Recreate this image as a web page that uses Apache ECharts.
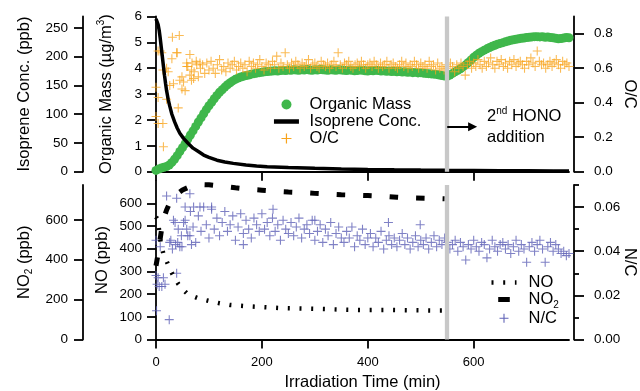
<!DOCTYPE html>
<html><head><meta charset="utf-8">
<script src="https://cdn.jsdelivr.net/npm/echarts@6/dist/echarts.min.js"></script>
<style>html,body{margin:0;padding:0;background:#fff}#c{width:640px;height:391px}</style>
</head><body><div id="c"></div>
<script>
const FONT = 'Liberation Sans, Arial, Helvetica, sans-serif';

// ---------- top panel data ----------
const omStart = 0, omStep = 5;            // sampling grid (min)
const organicMass = [
  0.05,0.10,0.14,0.17,0.20,0.26,0.36,0.48,0.62,0.78,
  0.93,1.08,1.25,1.42,1.58,1.75,1.92,2.08,2.24,2.40,
  2.55,2.68,2.82,2.95,3.07,3.17,3.27,3.36,3.44,3.51,
  3.57,3.62,3.66,3.69,3.72,3.74,3.77,3.79,3.81,3.83,
  3.84,3.86,3.87,3.88,3.89,3.90,3.89,3.91,3.92,3.91,
  3.93,3.92,3.94,3.93,3.92,3.94,3.93,3.95,3.93,3.92,
  3.94,3.93,3.95,3.94,3.93,3.92,3.94,3.93,3.92,3.94,
  3.93,3.92,3.91,3.93,3.92,3.90,3.91,3.93,3.92,3.90,
  3.89,3.91,3.90,3.92,3.91,3.89,3.90,3.88,3.89,3.87,
  3.88,3.86,3.87,3.85,3.86,3.84,3.85,3.83,3.84,3.82,
  3.83,3.81,3.80,3.79,3.78,3.77,3.76,3.74,3.72,3.70,
  3.69,3.74,3.80,3.86,3.92,3.98,4.05,4.13,4.22,4.32,
  4.42,4.50,4.58,4.64,4.70,4.75,4.80,4.85,4.89,4.93,
  4.96,4.99,5.02,5.05,5.08,5.10,5.12,5.14,5.16,5.17,
  5.19,5.20,5.21,5.22,5.22,5.21,5.22,5.20,5.21,5.19,
  5.18,5.16,5.14,5.15,5.17,5.19,5.18
];
const isopreneConc = [
  [0,266],[2,264],[4,256],[6,246],[8,232],[10,216],[12,200],[14,184],[16,168],[18,154],
  [20,141],[23,126],[26,114],[30,100],[35,87],[40,76],[45,67],[52,58],[60,50],[70,41],
  [80,35],[90,29],[100,25],[115,20],[130,17],[146,14.5],[170,11.5],[190,10],[210,8.7],
  [250,7.2],[300,5.9],[350,4.8],[400,4],[450,3.3],[500,2.8],[550,2.4],[600,2.1],
  [650,1.8],[700,1.6],[750,1.4],[780,1.3]
];
const ocEarly = [
  [0,0.49],[0,0.32],[4,0.70],[4,0.43],[4,0.28],[8,0.70],[11,0.69],[13,0.59],[13,0.28],
  [14,0.145],[20,0.60],[20,0.42],[23,0.58],[26,0.50],[30,0.655],[31,0.78],[33,0.51],
  [39,0.69],[40,0.69],[42,0.37],[44,0.79],[45,0.53],[49,0.48],[49,0.55],[52,0.52],
  [55,0.47],[58,0.61],[58,0.63],[64,0.68],[67,0.59],[67,0.53],[71,0.54],[77,0.62],[83,0.63]
];
const ocStart = 60, ocStep = 4;
const ocBand = [
  0.61,0.56,0.63,0.58,0.64,0.55,0.60,0.62,0.57,0.63,
  0.59,0.64,0.60,0.57,0.62,0.65,0.59,0.61,0.58,0.63,
  0.60,0.62,0.64,0.59,0.61,0.63,0.60,0.62,0.58,0.64,
  0.61,0.63,0.60,0.62,0.65,0.61,0.59,0.63,0.62,0.60,
  0.64,0.62,0.67,0.60,0.63,0.61,0.69,0.62,0.60,0.63,
  0.61,0.64,0.62,0.60,0.63,0.61,0.62,0.65,0.60,0.62,
  0.63,0.61,0.60,0.64,0.62,0.61,0.63,0.60,0.62,0.64,
  0.61,0.69,0.62,0.60,0.63,0.62,0.64,0.61,0.60,0.62,
  0.63,0.61,0.64,0.62,0.60,0.62,0.63,0.61,0.64,0.62,
  0.60,0.63,0.61,0.62,0.64,0.60,0.62,0.63,0.61,0.60,
  0.62,0.64,0.61,0.63,0.60,0.62,0.61,0.64,0.62,0.60,
  0.63,0.61,0.62,0.60,0.64,0.61,0.62,0.59,0.63,0.60,
  0.61,0.59,0.62,0.60,0.63,0.61,0.58,0.62,0.60,0.63,
  0.61,0.56,0.62,0.64,0.60,0.63,0.61,0.65,0.62,0.60,
  0.64,0.61,0.63,0.66,0.62,0.60,0.64,0.62,0.65,0.61,
  0.63,0.60,0.64,0.62,0.65,0.61,0.63,0.64,0.62,0.60,
  0.64,0.62,0.66,0.63,0.61,0.70,0.64,0.62,0.63,0.60,
  0.62,0.64,0.61,0.63,0.65,0.62,0.60,0.64,0.62,0.63,
  0.61
];

// ---------- bottom panel data ----------
const noConc = [
  [0,540],[3,530],[6,480],[8,440],[12,395],[16,360],[20,345],[25,318],[30,293],[36,268],
  [42,245],[50,222],[58,204],[70,190],[80,181],[100,170],[120,160],[140,152],[170,147],
  [200,143],[240,138],[280,136],[320,134],[360,131],[400,130],[440,130],[480,129],
  [520,128],[545,128]
];
const no2Conc = [
  [0,370],[2,400],[4,430],[7,490],[11,560],[15,610],[20,650],[25,680],[30,700],[40,730],
  [50,750],[60,762],[70,772],[80,778],[100,776],[124,769],[150,761],[175,754],[200,749],
  [225,744],[250,740],[276,737],[300,733],[326,729],[350,726],[377,724],[400,722],
  [427,719],[455,714],[481,710],[510,708],[531,707],[545,706]
];
const ncEarly = [
  [0,0.045],[0,0.029],[1,0.013],[2,0.025],[4,0.028],[6,0.024],[8,0.042],[11,0.024],
  [14,0.028],[17,0.025],[20,0.065],[25,0.009],[26,0.044],[28,0.045],[31,0.041],[33,0.054],
  [36,0.053],[37,0.043],[39,0.064],[39,0.030],[41,0.044],[42,0.050],[45,0.042],[48,0.047],
  [49,0.042],[52,0.053],[55,0.060],[58,0.050],[64,0.066],[64,0.047],[67,0.043],[71,0.060],
  [83,0.060],[105,0.060],[165,0.043],[221,0.059],[300,0.054],[439,0.053],[499,0.052]
];
const ncStart = 55, ncStep = 5;
const ncBand = [
  0.054,0.047,0.058,0.051,0.044,0.056,0.049,0.060,0.052,0.046,
  0.059,0.050,0.055,0.047,0.053,0.058,0.049,0.052,0.056,0.045,
  0.051,0.057,0.048,0.054,0.050,0.046,0.055,0.052,0.049,0.057,
  0.050,0.053,0.047,0.055,0.049,0.052,0.045,0.054,0.050,0.048,
  0.053,0.047,0.051,0.055,0.046,0.050,0.052,0.048,0.054,0.045,
  0.049,0.052,0.044,0.050,0.047,0.053,0.043,0.048,0.051,0.046,
  0.044,0.049,0.046,0.051,0.042,0.047,0.045,0.050,0.043,0.046,
  0.048,0.042,0.046,0.044,0.049,0.041,0.045,0.047,0.043,0.046,
  0.042,0.045,0.048,0.043,0.046,0.041,0.044,0.047,0.042,0.045,
  0.043,0.046,0.041,0.044,0.047,0.042,0.045,0.043,0.046,0.044,
  0.041,0.043,0.045,0.040,0.044,0.042,0.036,0.043,0.041,0.045,
  0.042,0.040,0.044,0.043,0.037,0.041,0.045,0.042,0.040,0.043,
  0.044,0.041,0.043,0.039,0.042,0.045,0.040,0.043,0.041,0.035,
  0.042,0.044,0.040,0.043,0.045,0.041,0.035,0.042,0.044,0.040,
  0.043,0.041,0.039,0.040,0.038,0.039
];
const honoTime = 549;
const arrowFrom = [550, 1.74], arrowTo = [598, 1.74];

// ---------- ticks ----------
const xTicks = [0,200,400,600];
const omTicks = [0,1,2,3,4,5,6];
const isoTicks = [0,50,100,150,200,250];
const ocTicks = [0,0.2,0.4,0.6,0.8];
const noTicks = [0,100,200,300,400,500,600];
const no2Ticks = [0,200,400,600];
const ncTicks = [0,0.02,0.04,0.06];
const ncMinor = [0.01,0.03,0.05,0.07];

const GREEN = '#3fb74b', ORANGE = '#f8a41c', BLUE = '#5f62b6';
const PLUS = 'path://M4.4,0H5.6V4.4H10V5.6H5.6V10H4.4V5.6H0V4.4H4.4Z';

const omData = organicMass.map((v,i)=>[omStart+i*omStep, v]);
const ocData = ocEarly.concat(ocBand.map((v,i)=>[ocStart+i*ocStep, v]));
const ncData = ncEarly.concat(ncBand.map((v,i)=>[ncStart+i*ncStep, v]));

const AX = {color:'#000', width:1.8};
const richTitle = {
  a:{fontSize:16.5, fontFamily:FONT, color:'#000', lineHeight:20},
  sup:{fontSize:10, fontFamily:FONT, color:'#000', lineHeight:12, verticalAlign:'top'},
  sub:{fontSize:10, fontFamily:FONT, color:'#000', lineHeight:12, verticalAlign:'bottom'}
};
function yAxis(o){
  return {
    type:'value', gridIndex:o.grid, position:o.pos, offset:o.offset||0,
    min:o.min, max:o.max,
    axisLine:{show:o.line!==false, onZero:false, lineStyle:AX},
    axisTick:{show:true, inside:false, length:o.tickLen||9, customValues:o.ticks, lineStyle:AX},
    axisLabel:{show:o.labels!==false, customValues:o.ticks, margin:o.margin||15, color:'#000',
      fontSize:13.5, fontFamily:FONT, formatter:o.fmt},
    splitLine:{show:false},
    name:o.name||'', nameLocation:'middle', nameGap:o.nameGap||0, nameRotate:o.rot,
    nameMoveOverlap:false,
    nameTextStyle:{rich:richTitle, fontSize:16.5, fontFamily:FONT, color:'#000'}
  };
}
function xAxis(o){
  return {
    type:'value', gridIndex:o.grid, min:0, max:780, show:o.show!==false,
    axisLine:{show:true, onZero:false, lineStyle:AX},
    axisTick:{show:true, inside:false, length:9, customValues:xTicks, lineStyle:AX},
    axisLabel:{show:!!o.labels, customValues:xTicks, margin:16.5, color:'#000', fontSize:13, fontFamily:FONT},
    splitLine:{show:false},
    name:o.name||'', nameLocation:'middle', nameGap:34.5, nameMoveOverlap:false,
    nameTextStyle:{fontSize:16.5, fontFamily:FONT, color:'#000'}
  };
}
const HIDE_SYM = {color:'rgba(0,0,0,0)', opacity:0, borderWidth:0};

const option = {
  animation:false,
  textStyle:{fontFamily:FONT},
  grid:[
    {left:156, right:71, top:16.5, height:155.2, outerBoundsMode:'none', containLabel:false},
    {left:156, right:71, top:180.6, height:158.9, outerBoundsMode:'none', containLabel:false},
    {left:156, right:71, top:185, height:154.5, outerBoundsMode:'none', containLabel:false}
  ],
  xAxis:[
    xAxis({grid:0}),
    xAxis({grid:1, labels:true, name:'Irradiation Time (min)'}),
    xAxis({grid:2, show:false})
  ],
  yAxis:[
    yAxis({grid:0, pos:'left', min:0, max:6, ticks:omTicks, margin:14,
      name:'{a|Organic Mass (µg/m}{sup|3}{a|)}', nameGap:40}),
    yAxis({grid:0, pos:'left', offset:73, min:0, max:270, ticks:isoTicks, margin:15,
      name:'{a|Isoprene Conc. (ppb)}', nameGap:49}),
    yAxis({grid:0, pos:'right', offset:5, min:0, max:0.9, ticks:ocTicks, margin:20, tickLen:10,
      fmt:v=>v.toFixed(1), name:'{a|O/C}', nameGap:46, rot:-90}),
    yAxis({grid:1, pos:'left', min:0, max:700, ticks:noTicks, margin:14,
      name:'{a|NO (ppb)}', nameGap:44}),
    yAxis({grid:2, pos:'left', offset:73, min:0, max:775, ticks:no2Ticks, margin:15,
      name:'{a|NO}{sub|2}{a| (ppb)}', nameGap:49}),
    yAxis({grid:2, pos:'right', offset:5, min:0, max:0.07, ticks:ncTicks, margin:20, tickLen:10,
      fmt:v=>v.toFixed(2), name:'{a|N/C}', nameGap:46, rot:-90}),
    yAxis({grid:2, pos:'right', offset:5, min:0, max:0.07, ticks:ncMinor, labels:false, line:false, tickLen:5})
  ],
  legend:[
    {orient:'vertical', left:271.7, top:96, padding:0, itemGap:0, itemWidth:25, itemHeight:10,
     selectedMode:false,
     data:[
       {name:'Organic Mass'},
       {name:'Isoprene Conc.', lineStyle:{width:4.5, color:'#000', type:'solid'}, itemStyle:HIDE_SYM},
       {name:'O/C', itemStyle:{opacity:1}}
     ],
     formatter:n=>'{a|'+n+'}',
     textStyle:{rich:{a:{fontSize:16.5, fontFamily:FONT, color:'#000', lineHeight:20, padding:[0,0,0,5.6]}}}
    },
    {orient:'vertical', left:489, top:274, padding:0, itemGap:0, itemWidth:25, itemHeight:9,
     selectedMode:false,
     data:[
       {name:'NO', lineStyle:{width:4.5, color:'#000', type:[2,9.7]}, itemStyle:HIDE_SYM},
       {name:'NO2', lineStyle:{width:5, color:'#000', type:[11.6,30], dashOffset:-6.7}, itemStyle:HIDE_SYM},
       {name:'N/C', itemStyle:{opacity:1}}
     ],
     formatter:n=> n==='NO2' ? '{a|NO}{s|2}' : '{a|'+n+'}',
     textStyle:{rich:{
       a:{fontSize:16.5, fontFamily:FONT, color:'#000', lineHeight:20.5, padding:[0,0,0,7]},
       s:{fontSize:10, fontFamily:FONT, color:'#000', lineHeight:12, verticalAlign:'bottom'}
     }}
    }
  ],
  graphic:[
    {type:'text', x:487, y:106.5, z:20,
     style:{text:'{a|2}{s|nd}{a| HONO}\n{a|addition}', align:'left', verticalAlign:'top',
       rich:{
         a:{fontSize:16.5, fontFamily:FONT, fill:'#000', lineHeight:20.5},
         s:{fontSize:10, fontFamily:FONT, fill:'#000', lineHeight:12, verticalAlign:'top'}
       }}}
  ],
  series:[
    {name:'Organic Mass', type:'scatter', xAxisIndex:0, yAxisIndex:0, data:omData,
     symbol:'circle', symbolSize:9, itemStyle:{color:GREEN, opacity:1}, z:2, silent:true},
    {name:'O/C', type:'scatter', xAxisIndex:0, yAxisIndex:2, data:ocData,
     symbol:PLUS, symbolSize:9, itemStyle:{color:ORANGE, opacity:0.75}, z:3, silent:true},
    {name:'Isoprene Conc.', type:'line', xAxisIndex:0, yAxisIndex:1, data:isopreneConc,
     symbol:'none', showSymbol:false, lineStyle:{color:'#000', width:3.5}, itemStyle:{color:'#000'}, z:4, silent:true},
    {name:'mk0', type:'line', xAxisIndex:0, yAxisIndex:0, data:[], z:10, silent:true,
     markLine:{silent:true, animation:false, label:{show:false}, emphasis:{disabled:true},
       data:[
         {xAxis:honoTime, symbol:'none', lineStyle:{color:'#c8c8c8', width:4.3, type:'solid'}},
         [{coord:arrowFrom, symbol:'none'}, {coord:arrowTo, symbol:'triangle', symbolSize:9,
           lineStyle:{color:'#000', width:2, type:'solid'}}]
       ],
       symbol:['none','none'], lineStyle:{color:'#000', width:2, type:'solid'}
     }},
    {name:'N/C', type:'scatter', xAxisIndex:2, yAxisIndex:5, data:ncData,
     symbol:PLUS, symbolSize:9, itemStyle:{color:BLUE, opacity:0.8}, z:2, silent:true},
    {name:'NO', type:'line', xAxisIndex:1, yAxisIndex:3, data:noConc,
     symbol:'none', showSymbol:false, lineStyle:{color:'#000', width:4.5, type:[2,9.7]}, itemStyle:{color:'#000'}, z:3, silent:true},
    {name:'NO2', type:'line', xAxisIndex:2, yAxisIndex:4, data:no2Conc, clip:false,
     symbol:'none', showSymbol:false, lineStyle:{color:'#000', width:5, type:[8.5,18]}, itemStyle:{color:'#000'}, z:3, silent:true},
    {name:'mk2', type:'line', xAxisIndex:2, yAxisIndex:4, data:[], z:10, silent:true,
     markLine:{silent:true, animation:false, symbol:['none','none'], label:{show:false}, emphasis:{disabled:true},
       lineStyle:{color:'#c8c8c8', width:4.3, type:'solid'},
       data:[{xAxis:honoTime}]}}
  ]
};
const chart = echarts.init(document.getElementById('c'), null, {renderer:'canvas'});
chart.setOption(option);
</script>
</body></html>
